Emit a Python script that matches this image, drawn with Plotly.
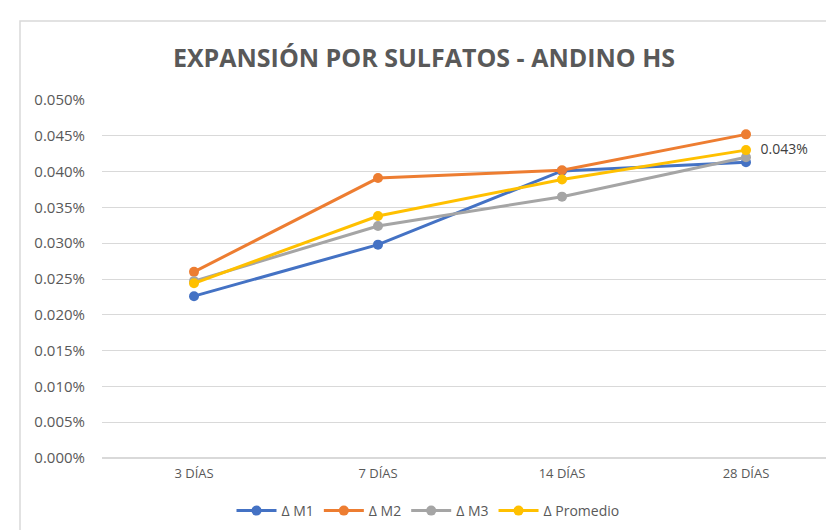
import plotly.graph_objects as go

categories = ["3 DÍAS", "7 DÍAS", "14 DÍAS", "28 DÍAS"]
m1 = [0.000226, 0.000298, 0.000401, 0.000413]
m2 = [0.000260, 0.000391, 0.000402, 0.000452]
m3 = [0.000247, 0.000324, 0.000365, 0.000420]
promedio = [0.000244, 0.000338, 0.000389, 0.000430]

series = [
    ("Δ M1", m1, "#4472c4"),
    ("Δ M2", m2, "#ed7d31"),
    ("Δ M3", m3, "#a5a5a5"),
    ("Δ Promedio", promedio, "#ffc000"),
]

W, H = 834, 530
L, R, T, B = 94, 4, 92, 80
pw, ph = W - L - R, H - T - B

fig = go.Figure()
for name, vals, color in series:
    is_avg = name == "Δ Promedio"
    fig.add_trace(
        go.Scatter(
            x=categories,
            y=vals,
            name=name,
            mode="lines+markers+text" if is_avg else "lines+markers",
            line=dict(color=color, width=3),
            marker=dict(size=10, color=color),
            text=["", "", "", f"  {vals[-1] * 100:.3f}%"] if is_avg else None,
            textposition="middle right",
            textfont=dict(size=14, color="#404040", family="Open Sans"),
            cliponaxis=False,
        )
    )

# outer chart border
fig.add_shape(
    type="rect",
    xref="paper",
    yref="paper",
    x0=(12 - L) / pw,
    x1=(W + 5 - L) / pw,
    y0=-(H + 5 - T - ph) / ph,
    y1=(T + ph - 13) / ph,
    line=dict(color="#d9d9d9", width=1.5),
    layer="below",
)

fig.update_layout(
    width=W,
    height=H,
    margin=dict(l=L, r=R, t=T, b=B),
    paper_bgcolor="white",
    plot_bgcolor="white",
    title=dict(
        text="<b>EXPANSIÓN POR SULFATOS - ANDINO HS</b>",
        x=(416 - L) / pw,
        xref="paper",
        xanchor="center",
        y=1 - 50 / H,
        yanchor="middle",
        font=dict(size=25, color="#595959", family="Open Sans"),
    ),
    font=dict(family="Open Sans", color="#595959", size=13),
    legend=dict(
        orientation="h",
        x=(420 - L) / pw,
        xanchor="center",
        y=-(503 - T - ph) / ph,
        yanchor="middle",
        font=dict(size=14, color="#595959"),
        itemwidth=40,
    ),
    showlegend=True,
)
fig.update_xaxes(
    range=[-0.5, 3.5],
    showgrid=False,
    showline=False,
    ticks="",
    ticklabelstandoff=6,
    tickfont=dict(size=13, color="#595959"),
)
fig.update_yaxes(
    range=[0, 0.0005],
    dtick=0.00005,
    tickformat=".3%",
    showgrid=True,
    gridcolor="#d9d9d9",
    gridwidth=1,
    zeroline=True,
    zerolinecolor="#d9d9d9",
    showline=False,
    ticks="",
    ticklabelstandoff=16,
    tickfont=dict(size=15, color="#595959"),
)

fig.write_html("out.html")
